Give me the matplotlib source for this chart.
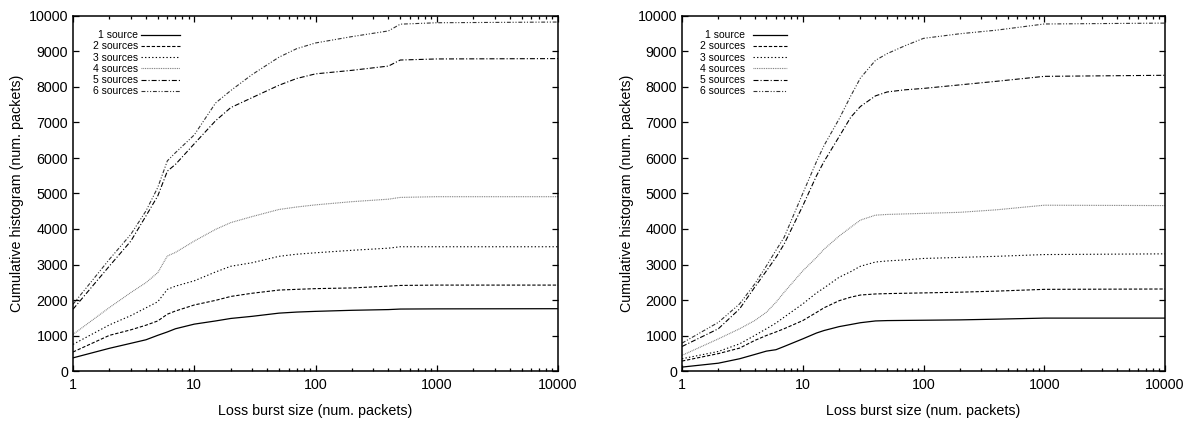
import matplotlib
matplotlib.use("Agg")
import matplotlib.pyplot as plt
from matplotlib.ticker import FixedLocator, FixedFormatter, LogLocator, NullFormatter, NullLocator

# ---------------- data ----------------
labels = ["1 source", "2 sources", "3 sources", "4 sources", "5 sources", "6 sources"]

x_left = [1, 2, 3, 4, 5, 6, 7, 10, 15, 20, 30, 50, 70, 100, 200, 400, 500, 1000, 10000]
left_1 = [370, 640, 780, 880, 1005, 1100, 1190, 1320, 1410, 1480, 1540, 1630, 1660, 1680, 1710, 1730, 1745, 1750, 1755]
left_2 = [535, 1005, 1160, 1290, 1410, 1600, 1690, 1860, 1990, 2100, 2190, 2280, 2300, 2320, 2340, 2390, 2410, 2420, 2420]
left_3 = [750, 1300, 1560, 1780, 1950, 2300, 2390, 2540, 2790, 2950, 3050, 3230, 3290, 3330, 3400, 3460, 3500, 3500, 3500]
left_4 = [1030, 1790, 2210, 2490, 2770, 3240, 3340, 3660, 3990, 4180, 4350, 4550, 4620, 4680, 4770, 4840, 4890, 4910, 4910]
left_5 = [1740, 2960, 3660, 4370, 4930, 5630, 5820, 6400, 7050, 7420, 7700, 8050, 8240, 8370, 8470, 8590, 8760, 8790, 8800]
left_6 = [1880, 3150, 3850, 4510, 5170, 5920, 6150, 6650, 7550, 7900, 8350, 8840, 9080, 9240, 9420, 9580, 9770, 9810, 9830]

x_right = [1, 2, 3, 4, 5, 6, 7, 10, 13, 15, 20, 25, 30, 40, 50, 70, 100, 200, 400, 1000, 10000]
right_1 = [110, 220, 345, 465, 560, 600, 690, 905, 1070, 1140, 1250, 1310, 1360, 1410, 1420, 1425, 1430, 1440, 1460, 1490, 1490]
right_2 = [280, 490, 645, 860, 1000, 1100, 1190, 1420, 1650, 1780, 1980, 2080, 2140, 2170, 2180, 2190, 2200, 2220, 2250, 2300, 2310]
right_3 = [345, 550, 765, 1000, 1190, 1350, 1515, 1890, 2200, 2340, 2640, 2800, 2950, 3070, 3100, 3130, 3170, 3200, 3230, 3280, 3300]
right_4 = [440, 905, 1190, 1420, 1655, 1935, 2215, 2820, 3200, 3430, 3800, 4050, 4250, 4390, 4410, 4425, 4440, 4470, 4540, 4670, 4660]
right_5 = [690, 1190, 1750, 2360, 2820, 3200, 3570, 4650, 5500, 5900, 6600, 7150, 7450, 7750, 7860, 7920, 7960, 8060, 8160, 8300, 8330]
right_6 = [785, 1370, 1890, 2450, 2960, 3400, 3760, 5000, 5900, 6350, 7100, 7750, 8250, 8750, 8940, 9160, 9370, 9500, 9600, 9775, 9800]

x_ticks = [1, 10, 100, 1000, 10000]
x_tick_labels = ["1", "10", "100", "1000", "10000"]
y_ticks = list(range(0, 10001, 1000))

# ---------------- style ----------------
plt.rcParams['font.family'] = ['Liberation Sans', 'DejaVu Sans']
styles = [
    dict(color="black", linestyle="-", lw=0.9),
    dict(color="black", linestyle=(0, (3.0, 1.6)), lw=0.8),
    dict(color="black", linestyle=(0, (1.2, 2.0)), lw=0.8),
    dict(color="#777777", linestyle=(0, (0.8, 0.8)), lw=0.8),
    dict(color="black", linestyle=(0, (4.5, 1.8, 1.0, 1.8)), lw=0.8),
    dict(color="#333333", linestyle=(0, (3.5, 1.6, 1.0, 1.6, 1.0, 1.6)), lw=0.8),
]

fig = plt.figure(figsize=(11.99, 4.23), dpi=100)
ax_l = fig.add_axes([73 / 1199, 52 / 423, 485 / 1199, 355 / 423])
ax_r = fig.add_axes([682 / 1199, 52 / 423, 483 / 1199, 355 / 423])

panels = [
    (ax_l, x_left, [left_1, left_2, left_3, left_4, left_5, left_6], 0.2206, 3.7, 0.35),
    (ax_r, x_right, [right_1, right_2, right_3, right_4, right_5, right_6], 0.217, 3.2, 0.8),
]

for ax, xs, series, lx, hl, htp in panels:
    for ys, lab, st in zip(series, labels, styles):
        ax.plot(xs, ys, label=lab, **st)
    ax.set_xscale("log")
    ax.set_xlim(1, 10000)
    ax.set_ylim(0, 10000)
    ax.xaxis.set_major_locator(FixedLocator(x_ticks))
    ax.xaxis.set_major_formatter(FixedFormatter(x_tick_labels))
    ax.xaxis.set_minor_locator(LogLocator(base=10, subs=range(2, 10)))
    ax.xaxis.set_minor_formatter(NullFormatter())
    ax.yaxis.set_major_locator(FixedLocator(y_ticks))
    ax.yaxis.set_minor_locator(NullLocator())
    ax.tick_params(which="both", direction="in", top=True, right=True, labelsize=10.3, width=0.9)
    ax.tick_params(which="major", length=4.0)
    ax.tick_params(which="minor", length=2.2)
    ax.tick_params(axis="x", pad=5)
    ax.tick_params(axis="y", pad=3.5)
    for sp in ax.spines.values():
        sp.set_linewidth(1.1)
    ax.set_xlabel("Loss burst size (num. packets)", fontsize=10.3, labelpad=9)
    ax.set_ylabel("Cumulative histogram (num. packets)", fontsize=10.3)
    ax.yaxis.set_label_coords(-0.1, 0.5)
    ax.legend(loc="upper right", bbox_to_anchor=(lx, 0.96), frameon=False, markerfirst=False,
              fontsize=7.5, handlelength=hl, handletextpad=htp, labelspacing=0.12,
              borderpad=0, borderaxespad=0)

fig.savefig("out.png", dpi=100)
